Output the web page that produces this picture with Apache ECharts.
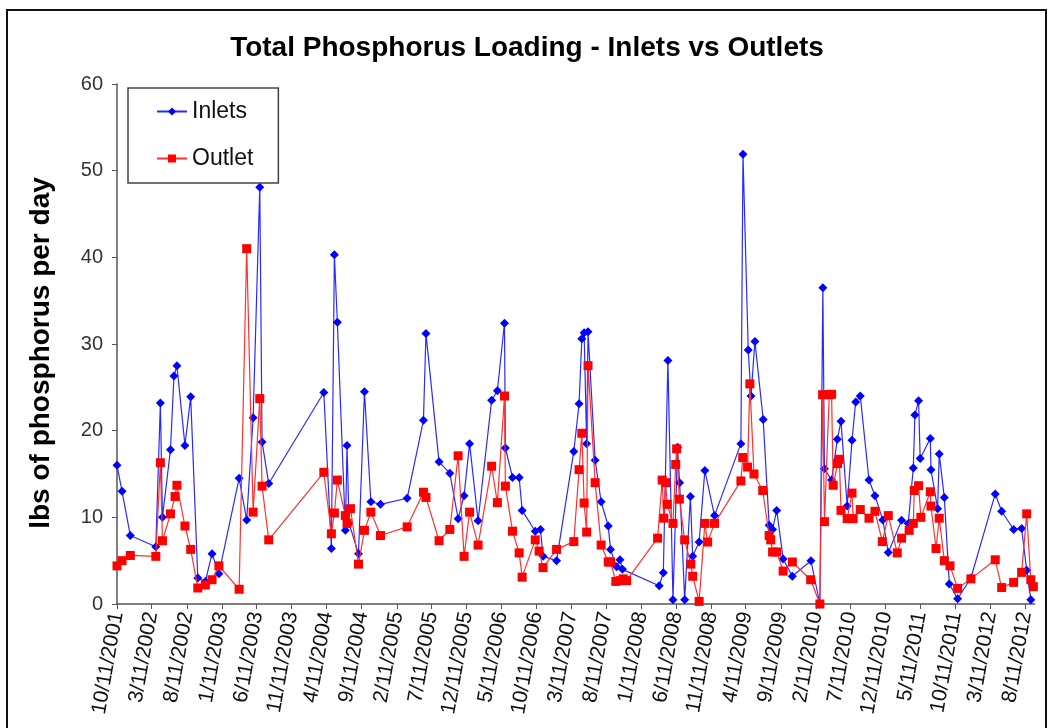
<!DOCTYPE html>
<html>
<head>
<meta charset="utf-8">
<script src="https://cdn.jsdelivr.net/npm/echarts@6/dist/echarts.min.js"></script>
<style>html,body{margin:0;padding:0;background:#fff;}#chart{width:1054px;height:728px;}</style>
</head>
<body>
<div id="chart"></div>
<script>
const titleText = 'Total Phosphorus Loading - Inlets vs Outlets';
const yAxisTitle = 'lbs of phosphorus per day';
const seriesNames = ['Inlets', 'Outlet'];

const tickLabels = ['10/11/2001','3/11/2002','8/11/2002','1/11/2003','6/11/2003','11/11/2003','4/11/2004','9/11/2004','2/11/2005','7/11/2005','12/11/2005','5/11/2006','10/11/2006','3/11/2007','8/11/2007','1/11/2008','6/11/2008','11/11/2008','4/11/2009','9/11/2009','2/11/2010','7/11/2010','12/11/2010','5/11/2011','10/11/2011','3/11/2012','8/11/2012'];
const xMinDate = '2001-10-11';
const xMaxDate = '2012-09-20';

const inletDates = ['2001-10-11','2001-11-02','2001-12-08','2002-03-29','2002-04-18','2002-04-27','2002-06-01','2002-06-16','2002-06-29','2002-08-03','2002-08-28','2002-09-28','2002-10-31','2002-11-29','2002-12-29','2003-03-27','2003-04-29','2003-05-27','2003-06-25','2003-07-05','2003-08-03','2004-03-30','2004-05-02','2004-05-15','2004-05-28','2004-07-02','2004-07-09','2004-07-18','2004-08-28','2004-09-23','2004-10-21','2004-12-02','2005-03-28','2005-06-07','2005-06-18','2005-08-14','2005-09-30','2005-11-05','2005-12-01','2005-12-25','2006-01-31','2006-03-31','2006-04-25','2006-05-26','2006-05-30','2006-06-30','2006-07-29','2006-08-11','2006-10-07','2006-10-30','2006-11-10','2007-01-08','2007-03-24','2007-04-16','2007-04-28','2007-05-08','2007-05-19','2007-05-25','2007-06-25','2007-07-21','2007-08-21','2007-08-31','2007-09-26','2007-10-11','2007-10-22','2008-03-30','2008-04-17','2008-05-07','2008-05-29','2008-06-18','2008-06-27','2008-07-19','2008-08-13','2008-08-23','2008-09-20','2008-10-15','2008-11-26','2009-03-21','2009-03-30','2009-04-22','2009-05-04','2009-05-21','2009-06-26','2009-07-22','2009-08-06','2009-08-24','2009-09-21','2009-10-31','2010-01-20','2010-02-28','2010-03-13','2010-03-20','2010-04-20','2010-05-15','2010-05-31','2010-06-27','2010-07-18','2010-08-03','2010-08-23','2010-09-30','2010-10-26','2010-11-29','2010-12-23','2011-02-19','2011-03-20','2011-04-11','2011-04-18','2011-05-04','2011-05-11','2011-06-24','2011-06-27','2011-07-26','2011-08-02','2011-08-24','2011-09-15','2011-10-21','2011-12-18','2012-04-02','2012-04-30','2012-06-21','2012-07-26','2012-08-17','2012-09-04'];
const inletValues = [16.0,13.0,7.9,6.6,23.2,10.0,17.8,26.3,27.5,18.3,23.9,3.0,2.6,5.8,3.5,14.5,9.7,21.5,48.1,18.7,13.9,24.4,6.4,40.3,32.5,8.5,18.3,9.3,5.8,24.5,11.8,11.5,12.2,21.2,31.2,16.4,15.1,9.85,12.5,18.5,9.6,23.5,24.6,32.4,18.0,14.6,14.6,10.8,8.4,8.6,5.5,5.0,17.6,23.1,30.6,31.3,18.5,31.4,16.6,11.8,9.0,6.3,4.3,5.1,4.0,2.1,3.6,28.1,0.5,18.1,14.0,0.5,12.4,5.5,7.15,15.4,10.2,18.5,51.9,29.3,24.0,30.3,21.3,9.1,8.6,10.8,5.2,3.2,5.0,0.0,36.5,15.6,14.3,19.0,21.1,11.3,18.9,23.3,24.0,14.3,12.5,9.7,5.95,9.65,9.3,15.7,21.8,23.45,16.8,19.1,15.5,11.0,17.3,12.3,2.3,0.6,3.0,12.7,10.7,8.6,8.7,3.9,0.5];

const outletDates = ['2001-10-11','2001-11-02','2001-12-08','2002-03-29','2002-04-18','2002-04-27','2002-06-01','2002-06-21','2002-06-29','2002-08-03','2002-08-28','2002-09-28','2002-10-31','2002-11-29','2002-12-29','2003-03-27','2003-04-29','2003-05-27','2003-06-25','2003-07-05','2003-08-03','2004-03-30','2004-05-02','2004-05-15','2004-05-28','2004-07-02','2004-07-09','2004-07-24','2004-08-28','2004-09-23','2004-10-21','2004-12-02','2005-03-28','2005-06-07','2005-06-18','2005-08-14','2005-09-30','2005-11-05','2005-12-01','2005-12-25','2006-01-31','2006-03-31','2006-04-25','2006-05-26','2006-05-30','2006-06-30','2006-07-29','2006-08-11','2006-10-07','2006-10-24','2006-11-10','2007-01-08','2007-03-24','2007-04-16','2007-04-28','2007-05-08','2007-05-19','2007-05-25','2007-06-25','2007-07-21','2007-08-21','2007-08-31','2007-09-23','2007-10-13','2007-10-25','2007-11-09','2008-03-23','2008-04-12','2008-04-19','2008-04-27','2008-05-04','2008-05-29','2008-06-10','2008-06-14','2008-06-26','2008-07-19','2008-08-15','2008-08-23','2008-09-20','2008-10-15','2008-10-27','2008-11-26','2009-03-21','2009-03-29','2009-04-19','2009-04-29','2009-05-17','2009-06-24','2009-07-22','2009-07-29','2009-08-06','2009-08-24','2009-09-21','2009-10-31','2010-01-19','2010-02-28','2010-03-12','2010-03-20','2010-04-10','2010-04-20','2010-04-27','2010-05-16','2010-05-24','2010-05-31','2010-06-27','2010-07-18','2010-07-23','2010-08-23','2010-09-30','2010-10-26','2010-11-27','2010-12-23','2011-01-31','2011-02-19','2011-03-24','2011-04-11','2011-04-15','2011-05-04','2011-05-14','2011-06-24','2011-06-27','2011-07-19','2011-08-02','2011-08-24','2011-09-18','2011-10-21','2011-12-18','2012-04-02','2012-04-30','2012-06-21','2012-07-26','2012-08-17','2012-09-04','2012-09-15'];
const outletValues = [4.4,5.0,5.6,5.5,16.3,7.3,10.4,12.4,13.7,9.0,6.3,1.85,2.2,2.8,4.4,1.7,41.0,10.6,23.7,13.6,7.4,15.2,8.1,10.5,14.3,10.2,9.3,11.0,4.6,8.5,10.6,7.9,8.9,12.9,12.3,7.3,8.6,17.1,5.5,10.6,6.8,15.9,11.7,24.0,13.6,8.4,5.9,3.1,7.4,6.1,4.2,6.3,7.2,15.5,19.7,11.65,8.3,27.5,14.0,6.8,4.85,4.85,2.6,2.7,2.9,2.7,7.6,14.3,9.9,14.0,11.5,9.3,16.1,17.9,12.1,7.4,4.6,3.2,0.3,9.3,7.15,9.3,14.2,16.9,15.8,25.4,15.0,13.1,7.9,7.4,6.0,6.0,3.8,4.85,2.8,0.0,24.15,9.5,24.15,24.2,13.7,16.2,16.7,10.8,9.85,12.8,9.85,10.9,9.9,10.7,7.2,10.2,5.9,7.6,8.5,9.3,13.1,13.65,10.0,12.95,11.3,6.4,9.9,5.0,4.4,1.8,2.9,5.1,1.9,2.5,3.65,10.4,2.8,2.0];

function parseIso(s) {
  const p = s.split('-').map(Number);
  return Date.UTC(p[0], p[1] - 1, p[2]);
}
function parseTick(s) {
  const p = s.split('/').map(Number);
  return Date.UTC(p[2], p[0] - 1, p[1]);
}
const tickValues = tickLabels.map(parseTick);
const tickMap = {};
tickValues.forEach((v, i) => { tickMap[v] = tickLabels[i]; });

const chart = echarts.init(document.getElementById('chart'));
const FONT = '"Liberation Sans", Arial, sans-serif';
chart.setOption({
  animation: false,
  backgroundColor: '#ffffff',
  title: {
    text: titleText,
    left: 'center',
    top: 29,
    textStyle: { fontFamily: FONT, fontSize: 28, fontWeight: 'bold', color: '#000' }
  },
  legend: {
    orient: 'vertical',
    left: 128,
    top: 88,
    padding: [12, 25, 13, 28],
    itemGap: 24,
    itemWidth: 30,
    itemHeight: 10,
    borderColor: '#444',
    borderWidth: 1.5,
    textStyle: { fontFamily: FONT, fontSize: 23, color: '#111', padding: [0, 0, 0, 0] },
    data: seriesNames
  },
  graphic: [{
    type: 'rect',
    shape: { x: 7, y: 10, width: 1039, height: 740 },
    style: { fill: 'none', stroke: '#111', lineWidth: 2 },
    silent: true
  }],
  grid: { left: 117, right: 19.5, top: 84, bottom: 124 },
  xAxis: {
    type: 'value',
    min: parseIso(xMinDate),
    max: parseIso(xMaxDate),
    splitLine: { show: false },
    axisLine: { lineStyle: { color: '#555', width: 1.5 } },
    axisTick: { show: true, length: 5, customValues: tickValues, lineStyle: { color: '#555' } },
    axisLabel: {
      customValues: tickValues,
      rotate: 80,
      margin: 8,
      fontFamily: FONT,
      fontSize: 21,
      color: '#111',
      hideOverlap: false,
      formatter: function (v) { return tickMap[v] || ''; }
    }
  },
  yAxis: {
    type: 'value',
    min: 0,
    max: 60,
    interval: 10,
    name: yAxisTitle,
    nameLocation: 'middle',
    nameGap: 62,
    nameRotate: 90,
    nameTextStyle: { fontFamily: FONT, fontSize: 28, fontWeight: 'bold', color: '#000', padding: [0, 18, 0, 0] },
    splitLine: { show: false },
    axisLine: { show: true, lineStyle: { color: '#555', width: 1.5 } },
    axisTick: { show: true, length: 5, lineStyle: { color: '#555' } },
    axisLabel: { fontFamily: FONT, fontSize: 20, color: '#333', margin: 14 }
  },
  series: [
    {
      name: seriesNames[0],
      type: 'line',
      data: inletDates.map((d, i) => [parseIso(d), inletValues[i]]),
      symbol: 'diamond',
      symbolSize: 9,
      color: '#0000ff',
      lineStyle: { width: 1.2, color: '#2a2aff' },
      itemStyle: { color: '#0000ff' },
      z: 3
    },
    {
      name: seriesNames[1],
      type: 'line',
      data: outletDates.map((d, i) => [parseIso(d), outletValues[i]]),
      symbol: 'rect',
      symbolSize: 9,
      color: '#ff0000',
      lineStyle: { width: 1.2, color: '#ff3030' },
      itemStyle: { color: '#ff0000' },
      z: 4
    }
  ]
});
</script>
</body>
</html>
